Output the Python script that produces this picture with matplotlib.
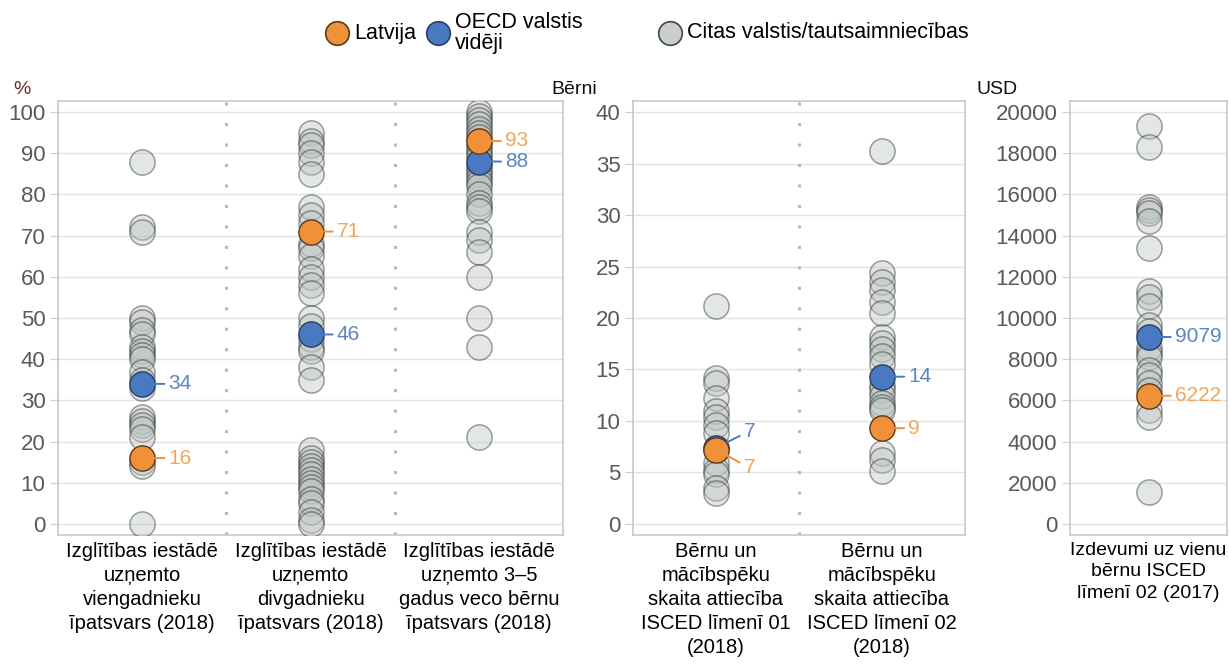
import numpy as np
import matplotlib.pyplot as plt
from matplotlib.lines import Line2D

plt.rcParams['font.family'] = ['Liberation Sans', 'DejaVu Sans']

# --- data ---
share_labels = ['Izglītības iestādē\nuzņemto\nviengadnieku\nīpatsvars (2018)',
                'Izglītības iestādē\nuzņemto\ndivgadnieku\nīpatsvars (2018)',
                'Izglītības iestādē\nuzņemto 3–5\ngadus veco bērnu\nīpatsvars (2018)']
share_other = [
    [88, 72, 71, 50, 49, 47, 46, 43, 42, 41, 40, 37, 35, 33, 26, 25, 24, 23, 21, 15, 14, 0],
    [95, 93, 92, 90, 88, 85, 77, 75, 73, 68, 67, 65, 62, 60, 58, 56, 50, 48, 45, 43, 42, 38, 35,
     18, 16, 15, 14, 13, 12, 11, 10, 9, 8, 6, 5, 3, 1, 0],
    [100, 99, 98, 97, 96, 95, 94, 92, 91, 90, 89, 87, 86, 85, 84, 83, 82, 80, 78, 77, 76,
     71, 69, 66, 60, 50, 43, 21],
]
share_lv = [16, 71, 93]
share_oecd = [34, 46, 88]

ratio_labels = ['Bērnu un\nmācībspēku\nskaita attiecība\nISCED līmenī 01\n(2018)',
                'Bērnu un\nmācībspēku\nskaita attiecība\nISCED līmenī 02\n(2018)']
ratio_other = [
    [21.2, 14.2, 13.7, 12.2, 11.0, 10.4, 9.6, 8.8, 5.9, 5.2, 4.8, 3.5, 3.0],
    [36.2, 24.4, 23.5, 22.7, 21.6, 20.5, 18.2, 17.6, 17.0, 16.3, 15.5, 13.5, 13.0, 12.4,
     11.7, 11.4, 11.1, 6.9, 6.2, 5.1],
]
ratio_lv = [7.2, 9.3]
ratio_oecd = [7.4, 14.3]

spend_labels = ['Izdevumi uz vienu\nbērnu ISCED\nlīmenī 02 (2017)']
spend_other = [[19350, 18330, 15400, 15250, 15090, 14690, 13390, 11290, 11040, 10560,
                9670, 9350, 8530, 8300, 8110, 7480, 7240, 6830, 6500, 5540, 5215, 1570]]
spend_lv = [6222]
spend_oecd = [9079]

legend_names = ['Latvija', 'OECD valstis\nvidēji', 'Citas valstis/tautsaimniecības']

orange = '#f0913a'
blue = '#4a78c2'
orange_txt = '#f2a45e'
blue_txt = '#5b86c2'
grey_face = '#bcc4c2'

fig = plt.figure(figsize=(12.29, 6.64), dpi=100)

bottom, top = 1 - 535 / 664, 1 - 101 / 664
axes = [
    fig.add_axes([58 / 1229, bottom, (563 - 58) / 1229, top - bottom]),
    fig.add_axes([633 / 1229, bottom, (965 - 633) / 1229, top - bottom]),
    fig.add_axes([1070 / 1229, bottom, (1227 - 1070) / 1229, top - bottom]),
]

panels = [
    (share_labels, share_other, share_lv, share_oecd, (-2.7, 102.7), np.arange(0, 101, 10), 14.5),
    (ratio_labels, ratio_other, ratio_lv, ratio_oecd, (-1.08, 41.08), np.arange(0, 41, 5), 14.5),
    (spend_labels, spend_other, spend_lv, spend_oecd, (-540, 20540), np.arange(0, 20001, 2000), 14),
]

for p, (ax, (labels, others, lv, oecd, ylim, yt, lab_fs)) in enumerate(zip(axes, panels)):
    n = len(labels)
    xs = np.arange(n) + 0.5
    for i in range(n):
        ax.scatter([xs[i]] * len(others[i]), others[i], s=330, facecolor=grey_face,
                   edgecolor='#222222', linewidth=1.1, alpha=0.42, zorder=3)
        ax.scatter([xs[i]], [oecd[i]], s=330, color=blue, edgecolor='#2a3f60',
                   linewidth=1.0, zorder=4)
        ax.scatter([xs[i]], [lv[i]], s=330, color=orange, edgecolor='#5a3a1a',
                   linewidth=1.0, zorder=5)
        # value labels
        if p == 1 and i == 0:
            off_b, off_o = (20, 12), (20, -13)
        else:
            off_b, off_o = (19, 0), (19, 0)
        ax.annotate('{:.0f}'.format(oecd[i]), (xs[i], oecd[i]), xytext=off_b,
                    textcoords='offset points', ha='left', va='center', fontsize=15,
                    color=blue_txt, zorder=6,
                    arrowprops=dict(arrowstyle='-', color=blue, lw=1.4, shrinkA=1, shrinkB=9))
        ax.annotate('{:.0f}'.format(lv[i]), (xs[i], lv[i]), xytext=off_o,
                    textcoords='offset points', ha='left', va='center', fontsize=15,
                    color=orange_txt, zorder=6,
                    arrowprops=dict(arrowstyle='-', color=orange, lw=1.4, shrinkA=1, shrinkB=9))
    for d in range(1, n):
        ax.axvline(d, color='#b8b8b8', lw=2.2, linestyle=(0, (1, 5.7)), zorder=1)

    ax.set_xlim(0, n)
    ax.set_ylim(*ylim)
    ax.set_yticks(yt)
    ax.set_xticks(xs)
    ax.set_xticklabels(labels, fontsize=lab_fs, linespacing=1.33)
    ax.tick_params(axis='x', length=0, pad=5)
    ax.tick_params(axis='y', length=6, color='#cfcfcf', labelcolor='#595959',
                   labelsize=16, pad=3)
    ax.grid(axis='y', color='#e3e3e3', lw=1, zorder=0)
    ax.set_axisbelow(True)
    for s in ax.spines.values():
        s.set_color('#c8c8c8')
        s.set_linewidth(1.2)

fig.text(13 / 1229, 1 - 89 / 664, '%', fontsize=14, color='#6e2b2b', va='center')
fig.text(551 / 1229, 1 - 89 / 664, 'Bērni', fontsize=14, color='#111111', va='center')
fig.text(977 / 1229, 1 - 89 / 664, 'USD', fontsize=14, color='#111111', va='center')

# legend drawn by hand so the gaps match the original
leg_cols = [orange, blue, '#c9cfcd']
leg_edges = ['#5a3a1a', '#2a3f60', '#444444']
leg_x = [337, 438, 670]
leg_y = 1 - 33 / 664
for name, c, ec, x in zip(legend_names, leg_cols, leg_edges, leg_x):
    fig.add_artist(Line2D([x / 1229], [leg_y], transform=fig.transFigure, marker='o',
                          markersize=17, markerfacecolor=c, markeredgecolor=ec,
                          markeredgewidth=1.2, linestyle=''))
    fig.text((x + 17) / 1229, leg_y, name, fontsize=15.5, va='center', ha='left',
             linespacing=0.95)

fig.savefig('out.png', dpi=100)
